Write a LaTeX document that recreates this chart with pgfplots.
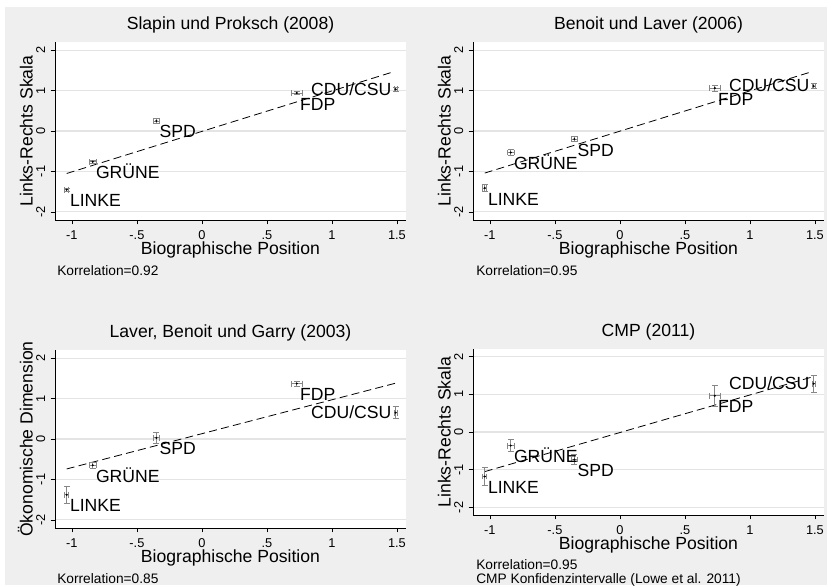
\documentclass[border=0pt]{standalone}
\usepackage{pgfplots}
\pgfplotsset{compat=1.18}
\usepackage{pgfplotstable}
\usepackage{fontspec}
\setmainfont{Liberation Sans}
\usetikzlibrary{calc}
\definecolor{bggray}{RGB}{239,239,239}
\definecolor{gridgray}{RGB}{228,228,228}
\definecolor{errgray}{RGB}{135,135,135}
\newcommand{\bigfont}{\fontsize{13.2}{15}\selectfont}
\newcommand{\tickfont}{\fontsize{9.6}{11}\selectfont}
\newcommand{\notefont}{\fontsize{10.3}{12}\selectfont}

% x: Biographische Position, y: party scale, ex/ey: half-widths of the intervals
\pgfplotstableread{
x y ex ey
-1.04 -1.45 0.015 0.04
-0.84 -0.76 0.025 0.03
-0.35 0.25 0.025 0.05
0.73 0.94 0.045 0.03
1.49 1.03 0.012 0.04
}\dataA
\pgfplotstableread{
x y ex ey
-1.04 -1.41 0.015 0.08
-0.84 -0.53 0.025 0.08
-0.35 -0.20 0.025 0.06
0.73 1.06 0.045 0.08
1.49 1.11 0.012 0.06
}\dataB
\pgfplotstableread{
x y ex ey
-1.04 -1.38 0.015 0.21
-0.84 -0.65 0.025 0.07
-0.35 0.03 0.025 0.13
0.73 1.37 0.045 0.06
1.49 0.65 0.012 0.15
}\dataC
\pgfplotstableread{
x y ex ey
-1.04 -1.18 0.015 0.23
-0.84 -0.36 0.025 0.16
-0.35 -0.73 0.025 0.13
0.73 0.96 0.045 0.28
1.49 1.28 0.012 0.22
}\dataD

\pgfplotsset{
  stata/.style={
    scale only axis,
    width=263.25pt,
    height=133.5pt,
    xmin=-1.13, xmax=1.57,
    ymin=-2.2, ymax=2.2,
    axis x line*=bottom,
    axis y line*=left,
    axis line style={black, line width=0.6pt, -},
    axis background/.style={fill=white},
    xtick={-1,-0.5,0,0.5,1,1.5},
    xticklabels={-1,-.5,0,.5,1,1.5},
    ytick={-2,-1,0,1,2},
    yticklabels={-2,-1,0,1,2},
    tick align=outside,
    major tick length=3.3pt,
    minor tick num=0,
    tick style={black, line width=0.6pt},
    ymajorgrids,
    grid style={gridgray, line width=0.8pt},
    tick label style={font=\tickfont, black},
    xticklabel style={anchor=base, inner sep=0pt},
    yticklabel style={rotate=90, anchor=base, inner sep=0pt},
    xticklabel shift=11pt,
    yticklabel shift=4.2pt,
    title style={font=\bigfont, at={(0.5,1)}, anchor=base, yshift=3.6pt, inner sep=0pt},
    xlabel style={font=\bigfont, at={(0.5,0)}, anchor=base, yshift=-25.6pt, inner sep=0pt},
    ylabel style={font=\bigfont, at={(axis description cs:-0.064,0.5)}, anchor=base, inner sep=0pt},
    xlabel={Biographische Position},
    clip=false,
  },
  pts/.style={only marks, mark=*, mark size=0.55pt, black,
    error bars/.cd, x dir=both, x explicit, y dir=both, y explicit,
    error bar style={errgray, line width=0.55pt},
    error mark options={errgray, mark size=2.2pt, line width=0.55pt, rotate=90}},
  lbl/.style={draw=none, mark=none, nodes near coords, point meta=explicit symbolic,
    nodes near coords style={font=\bigfont, black, anchor=base west, inner sep=0pt, xshift=2.3pt, yshift=-12.8pt}},
  lblw/.style={draw=none, mark=none, nodes near coords, point meta=explicit symbolic,
    nodes near coords style={font=\bigfont, black, anchor=base east, inner sep=0pt, xshift=-3pt, yshift=-4.4pt}},
  fit/.style={black, line width=0.6pt, dash pattern=on 6pt off 3.2pt},
}

\begin{document}
\begin{tikzpicture}[x=0.75pt,y=-0.75pt]
\useasboundingbox (0,0) rectangle (827,585);
\fill[white] (0,0) rectangle (827,585);
\fill[bggray] (5,7) rectangle (827,585);
\coordinate (A) at (55,220);
\coordinate (B) at (473,220);
\coordinate (C) at (55,528);
\coordinate (D) at (473,515);

% Panel 1
\begin{axis}[stata, at={(A)}, anchor=south west, name=ax1,
  title={Slapin und Proksch (2008)}, ylabel={Links-Rechts Skala}]
\addplot[fit] coordinates {(-1.04,-1.05) (1.48,1.47)};
\addplot[pts] table[x=x, y=y, x error=ex, y error=ey] {\dataA};
\addplot[lbl] coordinates {(-1.04,-1.45)[LINKE] (-0.84,-0.76)[GRÜNE] (-0.35,0.25)[SPD] (0.73,0.94)[FDP]};
\addplot[lblw] coordinates {(1.49,1.03)[CDU/CSU]};
\end{axis}

% Panel 2
\begin{axis}[stata, at={(B)}, anchor=south west, name=ax2,
  title={Benoit und Laver (2006)}, ylabel={Links-Rechts Skala}]
\addplot[fit] coordinates {(-1.04,-1.04) (1.48,1.47)};
\addplot[pts] table[x=x, y=y, x error=ex, y error=ey] {\dataB};
\addplot[lbl] coordinates {(-1.04,-1.41)[LINKE] (-0.84,-0.53)[GRÜNE] (-0.35,-0.20)[SPD] (0.73,1.06)[FDP]};
\addplot[lblw] coordinates {(1.49,1.11)[CDU/CSU]};
\end{axis}

% Panel 3
\begin{axis}[stata, at={(C)}, anchor=south west, name=ax3,
  title={Laver, Benoit und Garry (2003)}, ylabel={Ökonomische Dimension}]
\addplot[fit] coordinates {(-1.04,-0.74) (1.49,1.38)};
\addplot[pts] table[x=x, y=y, x error=ex, y error=ey] {\dataC};
\addplot[lbl] coordinates {(-1.04,-1.38)[LINKE] (-0.84,-0.65)[GRÜNE] (-0.35,0.03)[SPD] (0.73,1.37)[FDP]};
\addplot[lblw] coordinates {(1.49,0.65)[CDU/CSU]};
\end{axis}

% Panel 4
\begin{axis}[stata, at={(D)}, anchor=south west, name=ax4, height=124.5pt,
  title={CMP (2011)}, ylabel={Links-Rechts Skala}]
\addplot[fit] coordinates {(-1.04,-1.05) (1.48,1.46)};
\addplot[pts] table[x=x, y=y, x error=ex, y error=ey] {\dataD};
\addplot[lbl] coordinates {(-1.04,-1.18)[LINKE] (-0.84,-0.36)[GRÜNE] (-0.35,-0.73)[SPD] (0.73,0.96)[FDP]};
\addplot[lblw] coordinates {(1.49,1.28)[CDU/CSU]};
\end{axis}

\node[font=\notefont, anchor=base west, inner sep=0pt] at (57,275) {Korrelation=0.92};
\node[font=\notefont, anchor=base west, inner sep=0pt] at (476,275) {Korrelation=0.95};
\node[font=\notefont, anchor=base west, inner sep=0pt] at (57,583) {Korrelation=0.85};
\node[font=\notefont, anchor=base west, inner sep=0pt] at (476,569.5) {Korrelation=0.95};
\node[font=\notefont, anchor=base west, inner sep=0pt] at (476,583.5) {CMP Konfidenzintervalle (Lowe et al. 2011)};
\end{tikzpicture}
\end{document}
